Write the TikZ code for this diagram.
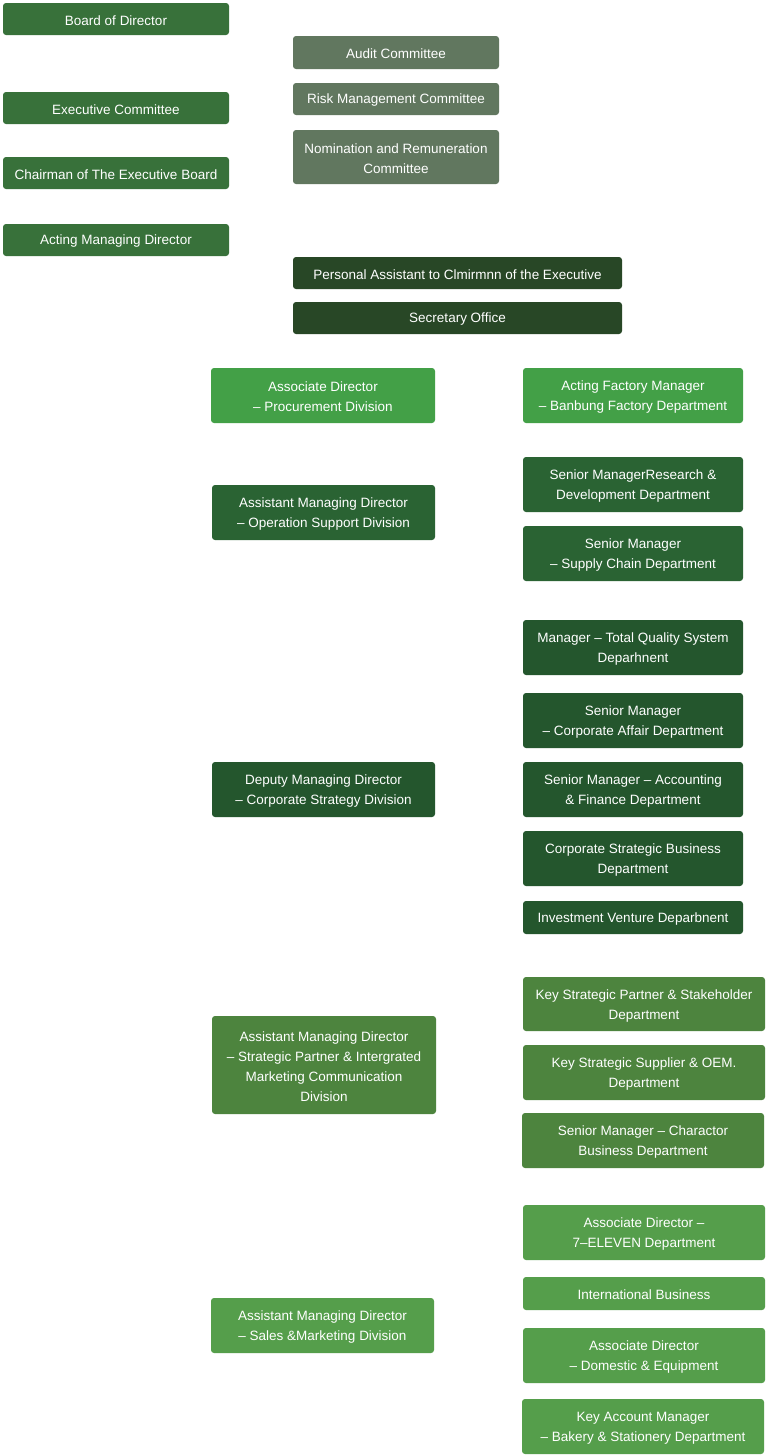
\documentclass[tikz,border=0pt]{standalone}
\usepackage{fontspec}
\setmainfont{Liberation Sans}
\definecolor{cTop}{HTML}{38713A}
\definecolor{cCom}{HTML}{61775F}
\definecolor{cSec}{HTML}{284726}
\definecolor{cLight}{HTML}{43A047}
\definecolor{cOps}{HTML}{2A6333}
\definecolor{cCorp}{HTML}{24562D}
\definecolor{cPart}{HTML}{4D843E}
\definecolor{cSales}{HTML}{559E4B}
\newcommand\orgbox[7]{%
  \node[box, fill=#2, minimum width={(#5-#3)*1pt}, minimum height={(#6-#4)*1pt}]
    (#1) at ({(#3+#5)/2},{(#4+#6)/2}) {};
  \node[boxtext] (#1-t) at ([yshift=-1.5pt]#1.center) {#7};}
\begin{document}
\begin{tikzpicture}[x=1pt,y=-1pt,
  box/.style={rectangle, rounded corners=3pt, inner sep=0pt},
  boxtext/.style={inner sep=0pt, text=white, align=center,
    font=\fontsize{13.5}{20}\selectfont}]
\useasboundingbox (0,0) rectangle (768,1456);
\fill[white] (0,0) rectangle (768,1456);
% top left column
\orgbox{board}{cTop}{3}{3}{229}{35}{Board of Director}
\orgbox{exec}{cTop}{3}{92}{229}{124}{Executive Committee}
\orgbox{chair}{cTop}{3}{157}{229}{189}{Chairman of The Executive Board}
\orgbox{amd}{cTop}{3}{224}{229}{256}{Acting Managing Director}
% committees
\orgbox{audit}{cCom}{293}{36}{499}{69}{Audit Committee}
\orgbox{risk}{cCom}{293}{83}{499}{115}{Risk Management Committee}
\orgbox{nom}{cCom}{293}{130}{499}{184}{Nomination and Remuneration\\Committee}
% secretary
\orgbox{pa}{cSec}{293}{257}{622}{289}{Personal Assistant to Clmirmnn of the Executive}
\orgbox{sec}{cSec}{293}{302}{622}{334}{Secretary Office}
% procurement
\orgbox{proc}{cLight}{211}{368}{435}{423}{Associate Director\\– Procurement Division}
\orgbox{fact}{cLight}{523}{368}{743}{423}{Acting Factory Manager\\– Banbung Factory Department}
% operation support
\orgbox{ops}{cOps}{212}{485}{435}{540}{Assistant Managing Director\\– Operation Support Division}
\orgbox{rnd}{cOps}{523}{457}{743}{512}{Senior ManagerResearch \&\\Development Department}
\orgbox{supply}{cOps}{523}{526}{743}{581}{Senior Manager\\– Supply Chain Department}
% corporate strategy
\orgbox{deputy}{cCorp}{212}{762}{435}{817}{Deputy Managing Director\\– Corporate Strategy Division}
\orgbox{tqs}{cCorp}{523}{620}{743}{675}{Manager – Total Quality System\\Deparhnent}
\orgbox{affair}{cCorp}{523}{693}{743}{748}{Senior Manager\\– Corporate Affair Department}
\orgbox{acc}{cCorp}{523}{762}{743}{817}{Senior Manager – Accounting\\\& Finance Department}
\orgbox{csb}{cCorp}{523}{831}{743}{886}{Corporate Strategic Business\\Department}
\orgbox{inv}{cCorp}{523}{901}{743}{934}{Investment Venture Deparbnent}
% strategic partner
\orgbox{part}{cPart}{212}{1016}{436}{1114}{Assistant Managing Director\\– Strategic Partner \& Intergrated\\Marketing Communication\\Division}
\orgbox{ksp}{cPart}{523}{977}{765}{1031}{Key Strategic Partner \& Stakeholder\\Department}
\orgbox{kss}{cPart}{523}{1045}{765}{1100}{Key Strategic Supplier \& OEM.\\Department}
\orgbox{char}{cPart}{522}{1113}{764}{1168}{Senior Manager – Charactor\\Business Department}
% sales
\orgbox{sales}{cSales}{211}{1298}{434}{1353}{Assistant Managing Director\\– Sales \&Marketing Division}
\orgbox{seven}{cSales}{523}{1205}{765}{1260}{Associate Director –\\7–ELEVEN Department}
\orgbox{intl}{cSales}{523}{1277}{765}{1310}{International Business}
\orgbox{dom}{cSales}{523}{1328}{765}{1383}{Associate Director\\– Domestic \& Equipment}
\orgbox{kam}{cSales}{522}{1399}{764}{1454}{Key Account Manager\\– Bakery \& Stationery Department}
\end{tikzpicture}
\end{document}
